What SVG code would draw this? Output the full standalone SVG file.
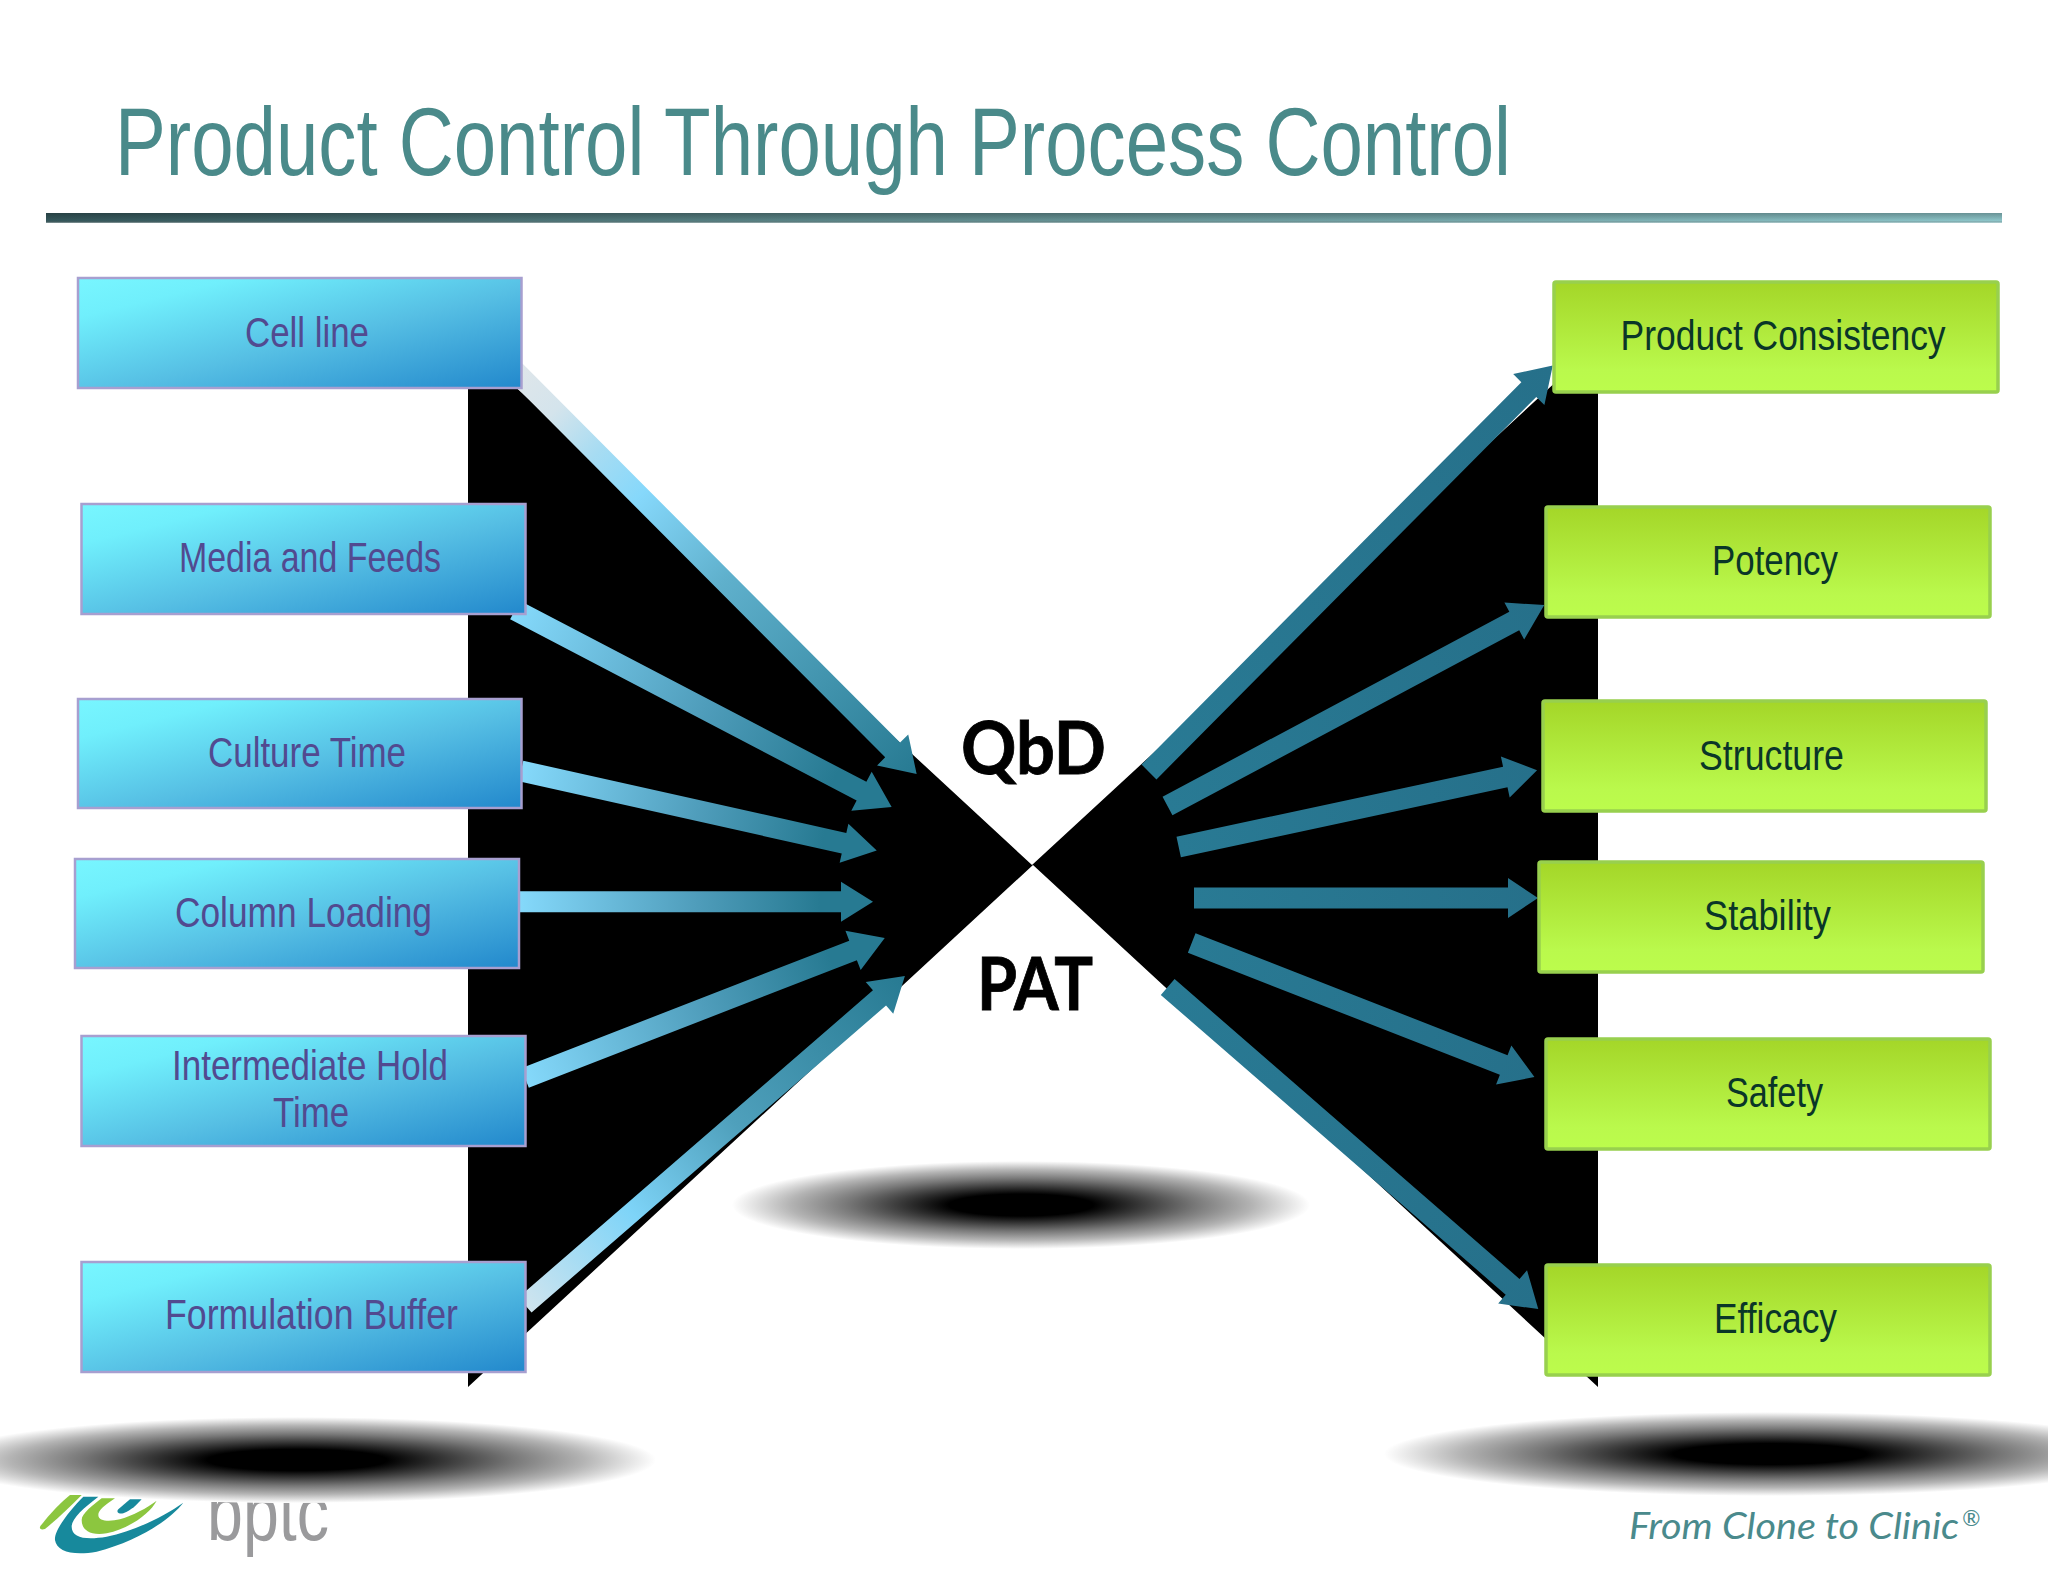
<svg xmlns="http://www.w3.org/2000/svg" width="2048" height="1582" viewBox="0 0 2048 1582">
<style>
text{font-family:"Liberation Sans",Arial,sans-serif}
.title{font-size:96px;fill:#4a8a8a}
.lb{fill:url(#blue);stroke:#a79fd0;stroke-width:2.5}
.gb{fill:url(#green);stroke:#98d04e;stroke-width:3.500}
.lt{font-size:42px;fill:#524a90}
.rt{font-size:42px;fill:#0a3628}
.big{font-family:Lato,"Open Sans",sans-serif;font-weight:700;font-size:72px;fill:#000;stroke:#000;stroke-width:.8}
.tag{font-family:Lato,"Open Sans",sans-serif;font-style:italic;font-size:37px;fill:#4a8a8c}
.al{fill:url(#fade)}
.ap{fill:url(#fadeLong)}
.aq{fill:url(#fadeLow)}
.ar{fill:url(#solid)}
</style>
<defs>
<linearGradient id="rule" x1="0" x2="1" y1="0" y2="0">
<stop offset="0" stop-color="#34565a"/><stop offset=".45" stop-color="#5f8a8c"/><stop offset="1" stop-color="#8cc4c8"/>
</linearGradient>
<linearGradient id="ruleV" x1="0" x2="0" y1="0" y2="1">
<stop offset="0" stop-color="#000" stop-opacity=".25"/><stop offset=".75" stop-color="#000" stop-opacity="0"/><stop offset="1" stop-color="#fff" stop-opacity=".5"/>
</linearGradient>
<linearGradient id="blue" x1="0" y1="0" x2="1" y2="1">
<stop offset="0" stop-color="#78f6ff"/><stop offset=".18" stop-color="#70effc"/><stop offset=".55" stop-color="#56bfe4"/><stop offset="1" stop-color="#2288cc"/>
</linearGradient>
<linearGradient id="green" x1="0" y1="0" x2="0" y2="1">
<stop offset="0" stop-color="#a4d628"/><stop offset=".8" stop-color="#baf94c"/><stop offset="1" stop-color="#bcfc4c"/>
</linearGradient>
<linearGradient id="fade" x1="0" x2="1" y1="0" y2="0">
<stop offset="0" stop-color="#85d9fb"/><stop offset=".5" stop-color="#4f9dbb"/><stop offset=".85" stop-color="#277a92"/><stop offset="1" stop-color="#277a92"/>
</linearGradient>
<linearGradient id="fadeLong" x1="0" x2="1" y1="0" y2="0">
<stop offset="0" stop-color="#dfe6ea"/><stop offset=".1" stop-color="#d4e4ec"/><stop offset=".2" stop-color="#a8dcf2"/><stop offset=".31" stop-color="#86d8fb"/><stop offset=".52" stop-color="#5fb0cc"/><stop offset="1" stop-color="#277a92"/>
</linearGradient>
<linearGradient id="fadeLow" x1="0" x2="1" y1="0" y2="0">
<stop offset="0" stop-color="#cfe4ee"/><stop offset=".28" stop-color="#7ed4f8"/><stop offset=".55" stop-color="#4fa0bc"/><stop offset="1" stop-color="#277a92"/>
</linearGradient>
<linearGradient id="solid" x1="0" x2="1" y1="0" y2="0">
<stop offset="0" stop-color="#297a94"/><stop offset="1" stop-color="#26708a"/>
</linearGradient>
<radialGradient id="sh">
<stop offset="0" stop-color="#000"/><stop offset=".25" stop-color="#000"/><stop offset=".45" stop-color="#444"/><stop offset=".6" stop-color="#777"/><stop offset=".8" stop-color="#b4b4b4"/><stop offset="1" stop-color="#fff"/>
</radialGradient>
</defs>
<rect width="2048" height="1582" fill="#fff"/>
<text class="title" x="115" y="175" textLength="1396" lengthAdjust="spacingAndGlyphs">Product Control Through Process Control</text>
<rect x="46" y="213" width="1956" height="10" fill="url(#rule)"/>
<rect x="46" y="213" width="1956" height="10" fill="url(#ruleV)"/>

<g id="logo">
<g transform="translate(30 1480) scale(.3333)">
<path d="M30 140C60 100 95 65 120 45L155 45C120 80 85 115 45 147C35 150 28 148 30 140Z" fill="#8cc63f"/>
<path d="M160 50L205 50C160 85 125 115 125 140C125 175 170 180 230 170C310 155 400 110 460 68C420 120 320 185 200 215C130 228 80 215 75 180C72 150 120 90 160 50Z" fill="#17899c"/>
<path d="M215 55L255 55C225 75 205 90 205 105C205 125 240 125 270 118C310 105 350 85 380 62C360 100 300 145 230 160C180 168 155 150 155 120C155 100 190 75 215 55Z" fill="#8cc63f"/>
<path d="M300 58L335 58C320 75 305 90 280 100C265 103 258 96 265 88Z" fill="#17899c"/>
</g>
<text x="207" y="1540" font-size="80" fill="#9a9a9c" textLength="122" lengthAdjust="spacingAndGlyphs">bptc</text>
</g>

<path id="hourglass" d="M468 343L1032 865L1598 343V1387L1033 865L468 1387Z" fill="#000"/>

<ellipse cx="297" cy="1460" rx="359" ry="43" fill="url(#sh)"/>
<ellipse cx="1021" cy="1205" rx="289" ry="44" fill="url(#sh)"/>
<ellipse cx="1770" cy="1454" rx="386" ry="42" fill="url(#sh)"/>

<g id="connectors">
<path class="ap" transform="translate(515 371) rotate(45.1)" d="M0-10.500H535V-22L569 0L535 22V10.500H0Z"/>
<path class="al" transform="translate(515 610) rotate(27.6)" d="M0-10.500H391V-22L425 0L391 22V10.500H0Z"/>
<path class="al" transform="translate(521 771) rotate(12.6)" d="M0-10.500H331V-20L364.500 0L331 20V10.500H0Z"/>
<path class="al" transform="translate(519 901.7)" d="M0-10.500H322V-20L354 0L322 20V10.500H0Z"/>
<path class="al" transform="translate(525 1078) rotate(-21.25)" d="M0-10.500H352V-21L386 0L352 21V10.500H0Z"/>
<path class="aq" transform="translate(525 1305) rotate(-40.9)" d="M0-10H469V-21L502.600 0L469 21V10H0Z"/>
<path class="ar" transform="translate(1149 772) rotate(-45.2)" d="M0-10.500H539V-22L573 0L539 22V10.500H0Z"/>
<path class="ar" transform="translate(1167.5 806) rotate(-28.07)" d="M0-10.500H393V-21L427 0L393 21V10.500H0Z"/>
<path class="ar" transform="translate(1178.7 847) rotate(-12.1)" d="M0-10.500H334V-21L366.500 0L334 21V10.500H0Z"/>
<path class="ar" transform="translate(1194 898)" d="M0-10.500H314V-20L344 0L314 20V10.500H0Z"/>
<path class="ar" transform="translate(1191.7 943) rotate(21.35)" d="M0-10.500H335V-21L368 0L335 21V10.500H0Z"/>
<path class="ar" transform="translate(1167.7 987) rotate(41)" d="M0-10.500H457V-22L491 0L457 22V10.500H0Z"/>
</g>

<g id="n-cell-line"><rect class="lb" x="78" y="278" width="443.5" height="110"/><text class="lt" x="245" y="347" textLength="124" lengthAdjust="spacingAndGlyphs">Cell line</text></g>
<g id="n-media"><rect class="lb" x="81.500" y="504" width="444" height="110"/><text class="lt" x="179" y="572" textLength="262" lengthAdjust="spacingAndGlyphs">Media and Feeds</text></g>
<g id="n-culture"><rect class="lb" x="78" y="699" width="443.500" height="109"/><text class="lt" x="208" y="767" textLength="198" lengthAdjust="spacingAndGlyphs">Culture Time</text></g>
<g id="n-column"><rect class="lb" x="75" y="859" width="444" height="109"/><text class="lt" x="175" y="927" textLength="257" lengthAdjust="spacingAndGlyphs">Column Loading</text></g>
<g id="n-hold"><rect class="lb" x="81.500" y="1036" width="444" height="110"/><text class="lt" x="172" y="1080" textLength="276" lengthAdjust="spacingAndGlyphs">Intermediate Hold</text><text class="lt" x="273" y="1127" textLength="76" lengthAdjust="spacingAndGlyphs">Time</text></g>
<g id="n-buffer"><rect class="lb" x="81.500" y="1262" width="444" height="110"/><text class="lt" x="165" y="1329" textLength="293" lengthAdjust="spacingAndGlyphs">Formulation Buffer</text></g>

<g id="n-consistency"><rect class="gb" x="1554" y="282" width="444" height="110" rx="2"/><text class="rt" x="1620.600" y="350" textLength="325" lengthAdjust="spacingAndGlyphs">Product Consistency</text></g>
<g id="n-potency"><rect class="gb" x="1546" y="507" width="444" height="110" rx="2"/><text class="rt" x="1712" y="575" textLength="126" lengthAdjust="spacingAndGlyphs">Potency</text></g>
<g id="n-structure"><rect class="gb" x="1543" y="701" width="443" height="110" rx="2"/><text class="rt" x="1699" y="770" textLength="145" lengthAdjust="spacingAndGlyphs">Structure</text></g>
<g id="n-stability"><rect class="gb" x="1539" y="862" width="444" height="110" rx="2"/><text class="rt" x="1704" y="930" textLength="127" lengthAdjust="spacingAndGlyphs">Stability</text></g>
<g id="n-safety"><rect class="gb" x="1546" y="1039" width="444" height="110" rx="2"/><text class="rt" x="1726" y="1107" textLength="97" lengthAdjust="spacingAndGlyphs">Safety</text></g>
<g id="n-efficacy"><rect class="gb" x="1546" y="1265" width="444" height="110" rx="2"/><text class="rt" x="1714" y="1333" textLength="123" lengthAdjust="spacingAndGlyphs">Efficacy</text></g>

<text class="big" x="961" y="774" textLength="145" lengthAdjust="spacingAndGlyphs">QbD</text>
<text class="big" x="977" y="1010" textLength="116" lengthAdjust="spacingAndGlyphs">PAT</text>
<text class="tag"><tspan x="1629" y="1539" textLength="330" lengthAdjust="spacingAndGlyphs">From Clone to Clinic</tspan><tspan x="1962" y="1526" font-size="22">®</tspan></text>
</svg>
